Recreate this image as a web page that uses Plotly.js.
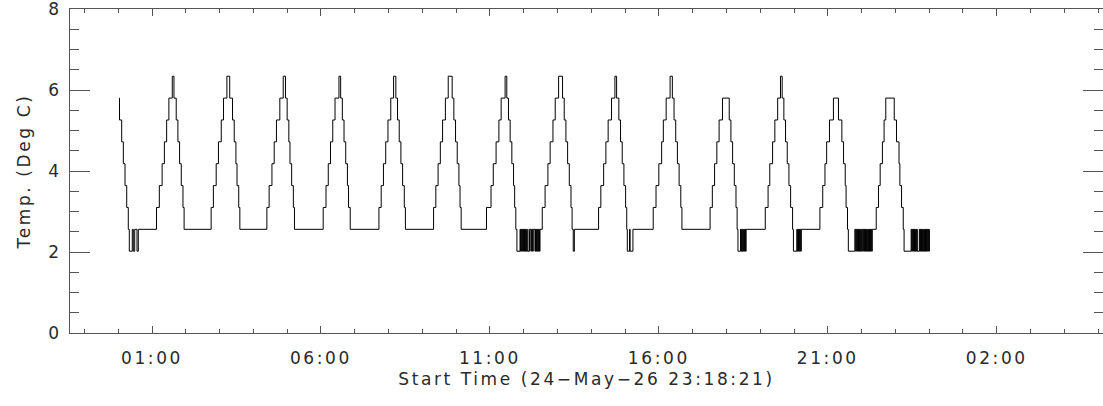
<!DOCTYPE html>
<html>
<head>
<meta charset="utf-8">
<script src="https://cdn.plot.ly/plotly-3.0.1.min.js"></script>
<style>
  html, body { margin: 0; padding: 0; background: #fff; }
  #chart { width: 1103px; height: 406px; }
  .main-svg text { letter-spacing: 2.6px; }
</style>
</head>
<body>
<div id="chart"></div>
<script>
// Reference day for the time values below: minutes after 00:00 on 25-May-2026
const BASE_DATE = "2026-05-25";
const START_TIME_LABEL = "Start Time (24\u2212May\u221226 23:18:21)";
const Y_TITLE = "Temp. (Deg C)";

// Step-change times (minutes after 00:00, 25-May) and temperatures (deg C)
const timeCycle1 = [1.4, 2.3, 6.2, 9.1, 12.1, 15.1, 17.9, 19.7, 25, 26.8, 29.3, 33.4, 35.7,
  68, 73, 78, 82, 86, 90, 96, 99, 103, 106, 109, 112, 115, 117];
const tempCycle1 = [5.80, 5.26, 4.72, 4.18, 3.64, 3.10, 2.56, 2.02, 2.56, 2.02, 2.56, 2.02, 2.56,
  3.10, 3.64, 4.18, 4.72, 5.26, 5.80, 6.34, 5.80, 5.26, 4.72, 4.18, 3.64, 3.10, 2.56];

const timeCycles2to6 = [
  165, 169, 174, 178, 183, 187, 193, 198, 203, 206, 209, 211, 214, 216,
  264, 268, 273, 277, 281, 287, 293, 297, 300, 303, 305, 308, 311, 313,
  364, 369, 373, 377, 381, 385, 392, 395, 398, 401, 404, 407, 409, 412,
  463, 467, 471, 475, 479, 484, 489, 493, 496, 499, 502, 505, 508, 510,
  560, 564, 568, 572, 576, 581, 586, 593, 596, 599, 602, 605, 607, 609];
const tempCycles2to6 = [
  3.10, 3.64, 4.18, 4.72, 5.26, 5.80, 6.34, 5.80, 5.26, 4.72, 4.18, 3.64, 3.10, 2.56,
  3.10, 3.64, 4.18, 4.72, 5.26, 5.80, 6.34, 5.80, 5.26, 4.72, 4.18, 3.64, 3.10, 2.56,
  3.10, 3.64, 4.18, 4.72, 5.26, 5.80, 6.34, 5.80, 5.26, 4.72, 4.18, 3.64, 3.10, 2.56,
  3.10, 3.64, 4.18, 4.72, 5.26, 5.80, 6.34, 5.80, 5.26, 4.72, 4.18, 3.64, 3.10, 2.56,
  3.10, 3.64, 4.18, 4.72, 5.26, 5.80, 6.34, 5.80, 5.26, 4.72, 4.18, 3.64, 3.10, 2.56];

const timeCycles7to8 = [
  654, 662, 666, 671, 676, 680, 687, 690, 693, 696, 699, 702, 704, 706,
  708, 713.5, 714.5, 715.5, 716.5, 717.5, 718.5, 719.5, 720.5, 721.5, 722.5, 723.5, 724.5, 725.5, 726.5,
  729.5, 730.5, 731.5, 734, 735, 736, 737, 740, 741, 742, 743, 744, 745, 746, 747, 748, 749,
  753, 758, 763, 767, 772, 776, 782, 789, 792, 795, 798, 801, 804, 806, 808, 810];
const tempCycles7to8 = [
  3.10, 3.64, 4.18, 4.72, 5.26, 5.80, 6.34, 5.80, 5.26, 4.72, 4.18, 3.64, 3.10, 2.56,
  2.02, 2.56, 2.02, 2.56, 2.02, 2.56, 2.02, 2.56, 2.02, 2.56, 2.02, 2.56, 2.02, 2.56, 2.02,
  2.56, 2.02, 2.56, 2.02, 2.56, 2.02, 2.56, 2.02, 2.56, 2.02, 2.56, 2.02, 2.56, 2.02, 2.56, 2.02, 2.56,
  3.10, 3.64, 4.18, 4.72, 5.26, 5.80, 6.34, 5.80, 5.26, 4.72, 4.18, 3.64, 3.10, 2.56, 2.02, 2.56];

const timeCycles9to10 = [
  853, 857, 862, 866, 870, 876, 882, 885, 889, 892, 895, 898, 901, 903, 904, 908, 909, 914,
  950, 955, 960, 965, 968, 973, 980, 984, 987, 990, 993, 996, 999, 1001];
const tempCycles9to10 = [
  3.10, 3.64, 4.18, 4.72, 5.26, 5.80, 6.34, 5.80, 5.26, 4.72, 4.18, 3.64, 3.10, 2.56, 2.02, 2.56, 2.02, 2.56,
  3.10, 3.64, 4.18, 4.72, 5.26, 5.80, 6.34, 5.80, 5.26, 4.72, 4.18, 3.64, 3.10, 2.56];

const timeCycles11to12 = [
  1051, 1055, 1059, 1063, 1067, 1073, 1085, 1088, 1091, 1094, 1097, 1099,
  1100.5, 1105, 1106, 1107, 1108, 1109, 1110, 1111, 1112, 1113, 1114, 1115,
  1149, 1154, 1157, 1162, 1166, 1171, 1176, 1179, 1182, 1185, 1188, 1191, 1194, 1197.5,
  1199, 1205, 1206, 1207, 1208, 1209, 1210, 1211, 1212, 1213, 1214];
const tempCycles11to12 = [
  3.10, 3.64, 4.18, 4.72, 5.26, 5.80, 5.26, 4.72, 4.18, 3.64, 3.10, 2.56,
  2.02, 2.56, 2.02, 2.56, 2.02, 2.56, 2.02, 2.56, 2.02, 2.56, 2.02, 2.56,
  3.10, 3.64, 4.18, 4.72, 5.26, 5.80, 6.34, 5.80, 5.26, 4.72, 4.18, 3.64, 3.10, 2.56,
  2.02, 2.56, 2.02, 2.56, 2.02, 2.56, 2.02, 2.56, 2.02, 2.56, 2.56];

const timeCycles13to14 = [
  1246, 1251, 1255, 1258, 1263, 1270, 1279, 1285, 1288, 1291, 1292.5, 1295,
  1296.5, 1308, 1309.5, 1310.5, 1311.5, 1312.5, 1313.5, 1314.5, 1315.5, 1316.5, 1317.5, 1318.5, 1319.5, 1320.5,
  1322, 1323, 1324, 1325, 1326, 1327, 1328, 1329, 1330, 1331, 1332, 1333, 1334, 1335, 1336, 1337, 1338, 1339,
  1346, 1350, 1353, 1357, 1360, 1363, 1378, 1382, 1386.5, 1388, 1391, 1394,
  1395.5, 1408, 1409, 1410, 1411, 1412, 1413, 1414, 1415, 1416, 1417, 1418, 1419,
  1422.5, 1423.5, 1424.5, 1425.5, 1426.5, 1427.5, 1428.5, 1429.5, 1430.5, 1431.5, 1432.5, 1433.5,
  1434.5, 1435.5, 1436.5, 1437.5, 1438.5, 1439.5, 1440.5];
const tempCycles13to14 = [
  3.10, 3.64, 4.18, 4.72, 5.26, 5.80, 5.26, 4.72, 4.18, 3.64, 3.10, 2.56,
  2.02, 2.56, 2.02, 2.56, 2.02, 2.56, 2.02, 2.56, 2.02, 2.56, 2.02, 2.56, 2.02, 2.56,
  2.02, 2.56, 2.02, 2.56, 2.02, 2.56, 2.02, 2.56, 2.02, 2.56, 2.02, 2.56, 2.02, 2.56, 2.02, 2.56, 2.02, 2.56,
  3.10, 3.64, 4.18, 4.72, 5.26, 5.80, 5.26, 4.72, 4.18, 3.64, 3.10, 2.56,
  2.02, 2.56, 2.02, 2.56, 2.02, 2.56, 2.02, 2.56, 2.02, 2.56, 2.02, 2.56, 2.02,
  2.56, 2.02, 2.56, 2.02, 2.56, 2.02, 2.56, 2.02, 2.56, 2.02, 2.56, 2.02,
  2.56, 2.02, 2.56, 2.02, 2.56, 2.02, 2.56];

// Axis window and ticks (minutes after 00:00, 25-May)
const xRangeMinutes = [-85.6, 1748.7];
const firstMajorTickMinutes = 60;   // 01:00
const majorTickHours = 5;
const minorTickHours = 1;
const yRange = [0, 8];

const baseMs = Date.parse(BASE_DATE + "T00:00:00Z");
function toDate(m) {
  return new Date(baseMs + m * 60000).toISOString().replace("T", " ").replace("Z", "");
}

const allTimes = [].concat(timeCycle1, timeCycles2to6, timeCycles7to8, timeCycles9to10, timeCycles11to12, timeCycles13to14);
const allTemps = [].concat(tempCycle1, tempCycles2to6, tempCycles7to8, tempCycles9to10, tempCycles11to12, tempCycles13to14);

const axisColor = "#555555";
const font = { family: "DejaVu Sans", size: 17, color: "#2a2a2a" };

const trace = {
  x: allTimes.map(toDate),
  y: allTemps,
  type: "scatter",
  mode: "lines",
  line: { color: "#000", width: 1, shape: "hv" },
  hoverinfo: "skip"
};

const layout = {
  width: 1103,
  height: 406,
  margin: { l: 70, r: 0, t: 9, b: 73 },
  paper_bgcolor: "#fff",
  plot_bgcolor: "#fff",
  showlegend: false,
  font: font,
  xaxis: {
    type: "date",
    range: xRangeMinutes.map(toDate),
    tick0: toDate(firstMajorTickMinutes),
    dtick: majorTickHours * 3600000,
    tickformat: "%H:%M",
    ticks: "inside",
    ticklen: 7,
    tickwidth: 1,
    tickcolor: axisColor,
    minor: { dtick: minorTickHours * 3600000, ticks: "inside", ticklen: 4, tickcolor: axisColor, showgrid: false },
    showline: true,
    linecolor: axisColor,
    linewidth: 1,
    mirror: "allticks",
    showgrid: false,
    zeroline: false,
    ticklabelstandoff: 10,
    ticklabeloverflow: "allow",
    tickfont: font,
    title: { text: START_TIME_LABEL, font: font, standoff: 5 }
  },
  yaxis: {
    range: yRange,
    dtick: 2,
    ticks: "inside",
    ticklen: 20,
    tickwidth: 1,
    tickcolor: axisColor,
    minor: { dtick: 0.5, ticks: "inside", ticklen: 9, tickcolor: axisColor, showgrid: false },
    showline: true,
    linecolor: axisColor,
    linewidth: 1,
    mirror: "allticks",
    showgrid: false,
    zeroline: false,
    ticklabelstandoff: 4,
    ticklabeloverflow: "allow",
    tickfont: font,
    title: { text: Y_TITLE, font: font, standoff: 15 }
  }
};

Plotly.newPlot("chart", [trace], layout, { staticPlot: true, displayModeBar: false });
</script>
</body>
</html>
